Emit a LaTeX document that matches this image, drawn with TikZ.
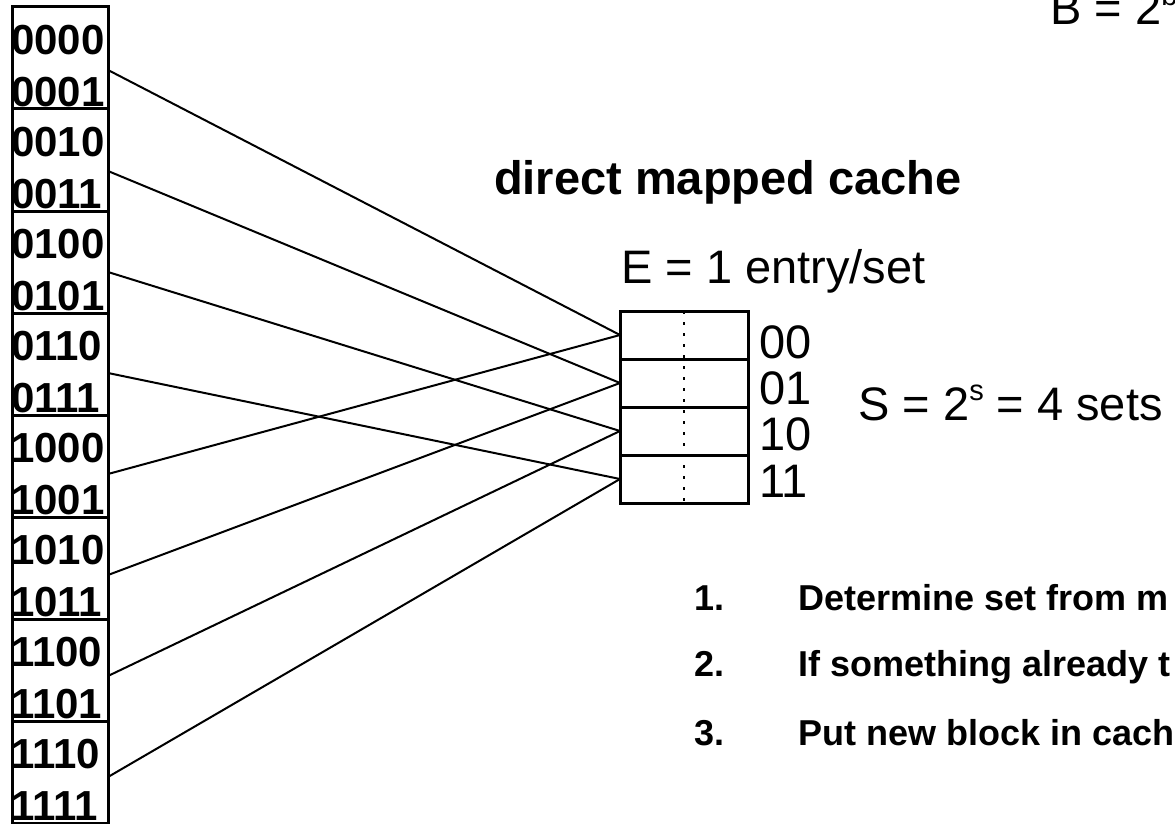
\documentclass[tikz,border=0pt]{standalone}
\usepackage{fontspec}
\setmainfont{Liberation Sans}
\usetikzlibrary{calc}
\begin{document}
\begin{tikzpicture}[x=1pt,y=-1pt,
  memblk/.style={draw, line width=3pt, minimum width=96pt, minimum height=102pt, inner sep=0pt, outer sep=0pt},
  memlbl/.style={font={\fontsize{42}{42}\selectfont\bfseries}, anchor=west, inner sep=0pt},
  crow/.style={draw, line width=3pt, minimum width=128pt, minimum height=48pt, inner sep=0pt, outer sep=0pt},
  wire/.style={line width=2pt},
  dotline/.style={line width=2.6pt, dash pattern=on 2.6pt off 8.4pt},
  reg/.style={font={\fontsize{47}{47}\selectfont}, inner sep=0pt},
  setlbl/.style={reg, anchor=west},
  title/.style={font={\fontsize{47}{47}\selectfont\bfseries}, inner sep=0pt, anchor=base west},
  item/.style={font={\fontsize{36}{36}\selectfont\bfseries}, inner sep=0pt, anchor=base west}
]
\useasboundingbox (0,0) rectangle (1175,824);
\fill[white] (0,0) rectangle (1175,824);

% memory blocks
\foreach \k/\a/\b in {0/0000/0001,1/0010/0011,2/0100/0101,3/0110/0111,4/1000/1001,5/1010/1011,6/1100/1101,7/1110/1111}{
  \node[memblk] (b\k) at (60,{58+102*\k}) {};
  \node[memlbl] (la\k) at (11,{40+102*\k}) {\a};
  \node[memlbl] (lb\k) at (11,{92+102*\k}) {\b};
  \coordinate (o\k) at (b\k.east |- 0,{70+101*\k});
}

% cache rows
\foreach \r/\t in {0/00,1/01,2/10,3/11}{
  \node[crow] (c\r) at (684,{335+48*\r}) {};
  \node[setlbl] (s\r) at (759,{342+46.3*\r}) {\t};
}
\draw[dotline] (c0.north) -- (c3.south);

% connectors
\draw[wire] (o0) -- (c0.west);
\draw[wire] (o1) -- (c1.west);
\draw[wire] (o2) -- (c2.west);
\draw[wire] (o3) -- (c3.west);
\draw[wire] (o4) -- (c0.west);
\draw[wire] (o5) -- (c1.west);
\draw[wire] (o6) -- (c2.west);
\draw[wire] (o7) -- (c3.west);

% texts
\node[title] (ttl) at (494,194) {direct mapped cache};
\node[reg, anchor=base west] (E) at (621,283) {E = 1 entry/set};
\node[reg, anchor=base west] (S) at (858,420) {S = 2\raisebox{0.42em}{\fontsize{29}{29}\selectfont s} = 4 sets};
\node[reg, anchor=base west] (B) at (1050,25) {B = 2\raisebox{0.42em}{\fontsize{29}{29}\selectfont b}};

\node[item] (n1) at (694,610) {1.};
\node[item] (t1) at (798,610) {Determine set from m};
\node[item] (n2) at (694,676) {2.};
\node[item] (t2) at (798,676) {If something already t};
\node[item] (n3) at (694,745) {3.};
\node[item] (t3) at (798,745) {Put new block in cach};
\end{tikzpicture}
\end{document}
